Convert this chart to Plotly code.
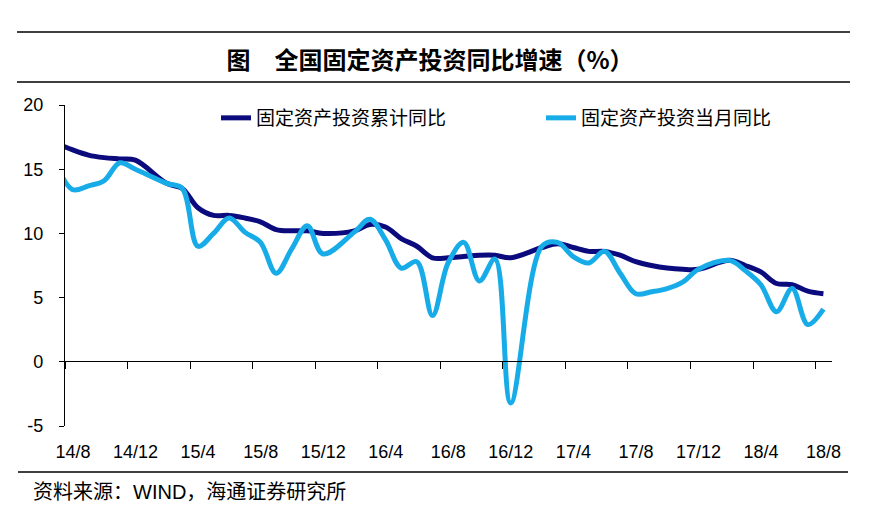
import plotly.graph_objects as go
import pandas as pd

# ---- data ----
months = [f"{p.year % 100}/{p.month}" for p in pd.period_range("2014-07", "2018-08", freq="M")]
# 固定资产投资累计同比 (%), January not published -> None
cum_yoy = [17.0, 16.5, 16.1, 15.9, 15.8, 15.7,
           None, 13.9, 13.5, 12.0, 11.4, 11.4, 11.2, 10.9, 10.3, 10.2, 10.2, 10.0,
           None, 10.2, 10.7, 10.5, 9.6, 9.0, 8.1, 8.1, 8.2, 8.3, 8.3, 8.1,
           None, 8.9, 9.2, 8.9, 8.6, 8.6, 8.3, 7.8, 7.5, 7.3, 7.2, 7.2,
           None, 7.9, 7.5, 7.0, 6.1, 6.0, 5.5, 5.3]
# 固定资产投资当月同比 (%)
mon_yoy = [15.2, 13.4, 13.7, 14.1, 15.5, 15.0,
           None, 13.9, 13.5, 9.0, 10.0, 11.2, 10.1, 9.3, 6.9, 8.8, 10.6, 8.4,
           None, 10.1, 11.1, 9.5, 7.3, 7.8, 3.6, 7.7, 9.3, 6.3, 8.0, -3.2,
           None, 9.0, 9.3, 8.2, 7.7, 8.6, 6.9, 5.3, 5.45, 5.7, 6.2, 7.2,
           None, 7.9, 7.1, 6.0, 3.9, 5.7, 2.9, 4.1]
x_labels = ["14/8", "14/12", "15/4", "15/8", "15/12", "16/4", "16/8",
            "16/12", "17/4", "17/8", "17/12", "18/4", "18/8"]
y_ticks = [-5, 0, 5, 10, 15, 20]
y_ticktext = ["-5", "0", "5", "10", "15", "20"]

# month index: 14/8 -> 0
x_idx = [i - 1 for i in range(len(months))]
label_pos = [months.index(l) - 1 for l in x_labels]

W, H = 869, 516
OFF = 8  # page body margin
PL, PR, PT, PB = 65, 832, 105, 426  # plot area in page pixels
pw, ph = PR - PL, PB - PT
L, T = PL - OFF, PT - OFF
R, B = W - (PR - OFF), H - (PB - OFF)

def px(xp):
    return (xp - PL) / pw

def py(yp):
    return (PB - yp) / ph

DARK = "#0B0B7E"
LIGHT = "#17ACE8"
num_font = "Liberation Sans, Arial, sans-serif"
cjk_font = "Noto Sans CJK SC, sans-serif"

fig = go.Figure()
fig.add_trace(go.Scatter(x=x_idx, y=cum_yoy, mode="lines", name="固定资产投资累计同比",
                         line=dict(color=DARK, width=5, shape="spline", smoothing=1.0),
                         connectgaps=True))
fig.add_trace(go.Scatter(x=x_idx, y=mon_yoy, mode="lines", name="固定资产投资当月同比",
                         line=dict(color=LIGHT, width=5, shape="spline", smoothing=1.0),
                         connectgaps=True))

fig.update_layout(
    width=W, height=H,
    margin=dict(l=L, r=R, t=T, b=B, autoexpand=False),
    paper_bgcolor="white", plot_bgcolor="white",
    showlegend=True,
    legend=dict(orientation="h", x=px(216), y=py(118), xanchor="left", yanchor="middle",
                font=dict(family=cjk_font, size=19, color="black"),
                entrywidthmode="pixels", entrywidth=280,
                bgcolor="rgba(0,0,0,0)", tracegroupgap=0),
    title=dict(text="<b>图　全国固定资产投资同比增速（%）</b>",
               x=(430 - OFF) / W, y=1 - (61 - OFF) / H,
               xanchor="center", yanchor="middle", xref="container", yref="container",
               font=dict(family=cjk_font, size=24, color="black")),
    xaxis=dict(range=[-0.5, 48.55], anchor="free", position=py(361), automargin=False,
               showline=True, linecolor="black", linewidth=1.3,
               showgrid=False, zeroline=False,
               tickmode="array", tickvals=[p - 0.5 for p in label_pos], ticktext=x_labels,
               ticks="outside", ticklen=7, tickwidth=1.3, tickcolor="black",
               ticklabelshift=8, ticklabelstandoff=67,
               tickfont=dict(family=num_font, size=18, color="black")),
    yaxis=dict(range=[-5, 20], tickmode="array", tickvals=y_ticks, ticktext=y_ticktext,
               automargin=False,
               showline=True, linecolor="black", linewidth=1.3,
               showgrid=False, zeroline=False,
               ticks="outside", ticklen=5, tickwidth=1.3, tickcolor="black",
               ticklabelstandoff=12,
               tickfont=dict(family=num_font, size=18, color="black")),
    shapes=[
        dict(type="line", xref="paper", yref="paper", x0=px(17), x1=px(850), y0=py(32), y1=py(32),
             line=dict(color="black", width=1.5)),
        dict(type="line", xref="paper", yref="paper", x0=px(17), x1=px(850), y0=py(82), y1=py(82),
             line=dict(color="black", width=1.5)),
        dict(type="line", xref="paper", yref="paper", x0=px(18), x1=px(848), y0=py(472), y1=py(472),
             line=dict(color="black", width=1.5)),
    ],
    annotations=[
        dict(text="资料来源：<span style='font-family:Liberation Sans, Arial'>WIND</span>，海通证券研究所",
             xref="paper", yref="paper", x=px(31), y=py(490), xanchor="left", yanchor="middle",
             showarrow=False, font=dict(family=cjk_font, size=20, color="black")),
    ],
)

fig.write_html("out.html")
